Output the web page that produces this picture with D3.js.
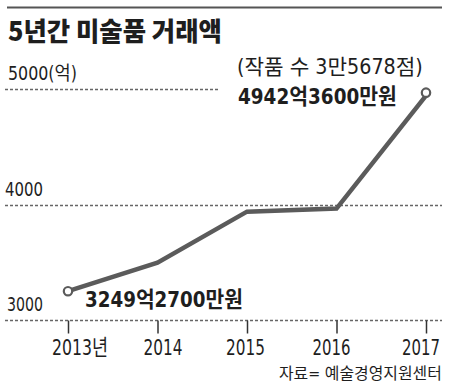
<!DOCTYPE html>
<html><head><meta charset="utf-8">
<script src="https://cdn.jsdelivr.net/npm/d3@7"></script>
<style>
html,body{margin:0;padding:0;background:#fff;}
svg{display:block;}
text{font-family:"DejaVu Sans Condensed","DejaVu Sans","Noto Sans CJK KR",sans-serif;fill:#1e1e1e;}
</style></head>
<body>
<svg id="c" width="450" height="387"></svg>
<script>
const years = ["2013", "2014", "2015", "2016", "2017"];
const yearLabels = ["2013년", "2014", "2015", "2016", "2017"];
const values = [3249.27, 3496, 3938, 3965, 4942.36];
const yTicks = [3000, 4000, 5000];
const yTickLabels = ["3000", "4000", "5000(억)"];
const title = "5년간 미술품 거래액";
const source = "자료= 예술경영지원센터";
const noteTop = "(작품 수 3만5678점)";
const labelLast = "4942억3600만원";
const labelFirst = "3249억2700만원";

const svg = d3.select("#c");
const x = d3.scalePoint().domain(years).range([68, 426]);
const y = d3.scaleLinear().domain([3000, 5000]).range([320, 89]);
const gray = "#5b5b5b";

// place a text with its left edge at x0 and baseline at y0, horizontally squeezed to width w
function fitText(parent, str, x0, y0, w, size, weight, family) {
  const g = parent.append("g");
  const t = g.append("text").attr("x",0).attr("y",0).attr("font-size",size).text(str);
  if (weight) t.style("font-weight", weight);
  if (family) t.style("font-family", family);
  const nat = t.node().getComputedTextLength();
  const sx = w / nat;
  g.attr("transform", `translate(${x0},${y0}) scale(${sx},1)`);
  return t;
}

// top rule
svg.append("line").attr("x1",7).attr("x2",442).attr("y1",7.5).attr("y2",7.5)
  .attr("stroke","#555").attr("stroke-width",2);

// title
fitText(svg, title, 8, 41, 214, 26, "900", "'Noto Sans CJK KR',sans-serif");

// gridlines
const gridEnd = {3000:442, 4000:442, 5000:220};
svg.append("g").selectAll("line").data(yTicks).join("line")
  .attr("x1",5).attr("x2",d=>gridEnd[d])
  .attr("y1",d=>Math.round(y(d))+0.5).attr("y2",d=>Math.round(y(d))+0.5)
  .attr("stroke","#666").attr("stroke-width",1.3).attr("stroke-dasharray","3,2");

// y labels
const yLabW = {3000:36, 4000:38, 5000:69};
const yLabX = {3000:7, 4000:5, 5000:8};
yTicks.forEach((d,i)=>fitText(svg, yTickLabels[i], yLabX[d], y(d)-9, yLabW[d], 19));

// x axis ticks (marks via d3 axis, labels placed under them)
const xAxis = d3.axisBottom(x).tickSize(13).tickSizeOuter(0).tickFormat("");
const gx = svg.append("g").attr("transform",`translate(0,${Math.round(y(3000))+0.5})`).call(xAxis);
gx.select(".domain").remove();
gx.selectAll(".tick line").attr("stroke","#333").attr("stroke-width",1.5);
const labW = [56,39,39,38,38];
const labOff = [-16,-14,-21,-24,-24];
years.forEach((yr,i)=>fitText(svg, yearLabels[i], x(yr)+labOff[i], 355, labW[i], 22));

// line
const line = d3.line().x((d,i)=>x(years[i])).y(d=>y(d));
svg.append("path").datum(values).attr("d",line)
  .attr("fill","none").attr("stroke",gray).attr("stroke-width",4.5).attr("stroke-linejoin","miter");

// end markers
const ends = [0, values.length-1];
svg.append("g").selectAll("circle").data(ends).join("circle")
  .attr("cx",i=>x(years[i])).attr("cy",i=>y(values[i])-(i===4?3:0)).attr("r",4.2)
  .attr("fill","#fff").attr("stroke",gray).attr("stroke-width",2.2);

// annotations
fitText(svg, noteTop, 237, 74, 186, 21);
fitText(svg, labelLast, 238, 104, 159, 22, "700");
fitText(svg, labelFirst, 85, 307, 158, 22, "700");
fitText(svg, source, 279, 379, 163, 16);
</script>
</body></html>
